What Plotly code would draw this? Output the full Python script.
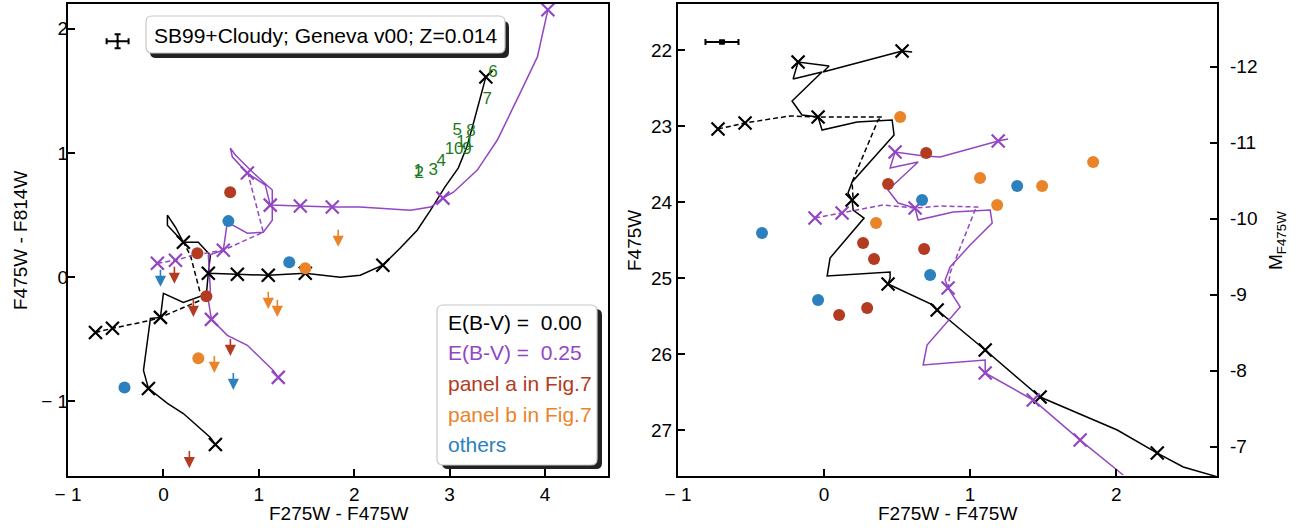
import plotly.graph_objects as go

W, H = 1302, 531
FONT = "Liberation Sans, Arial, sans-serif"
BLACK = "#000000"
PURPLE = "#9346c2"
RED = "#b33b22"
ORANGE = "#ea8429"
BLUE = "#2b80bd"
GREEN = "#1d7a1d"

# ---------------- left panel: colour-colour ----------------
lx_bs = [0.545, 0.492, 0.209, 0.042, -0.157, -0.209, -0.136, -0.031, 0.0, 0.209, 0.450, 0.471, 0.775, 1.099,
         1.487, 1.853, 2.063, 2.30, 2.48, 2.66, 2.80, 2.95, 3.09, 3.18, 3.25, 3.32, 3.38,
         None, 0.471, 0.492, 0.366, 0.209, 0.042, 0.042, 0.126, 0.209]
ly_bs = [-1.347, -1.290, -1.097, -1.016, -0.895, -0.750, -0.331, -0.323, -0.129, -0.202, -0.137, 0.032, 0.024,
         0.016, 0.032, 0.0, 0.016, 0.097, 0.234, 0.379, 0.540, 0.726, 0.879, 1.048, 1.242, 1.452, 1.613,
         None, 0.032, 0.177, 0.282, 0.282, 0.419, 0.500, 0.403, 0.282]
lx_bd = [-0.712, -0.534, -0.136, -0.031, 0.461, 0.387, 0.283, 0.209]
ly_bd = [-0.444, -0.411, -0.347, -0.323, -0.161, -0.129, 0.177, 0.282]
lx_bx = [0.545, -0.157, -0.031, 0.209, 0.471, 0.775, 1.099, 1.487, 2.30, 3.38, -0.712, -0.534]
ly_bx = [-1.347, -0.895, -0.323, 0.282, 0.032, 0.024, 0.016, 0.032, 0.097, 1.613, -0.444, -0.411]

lx_ps = [4.03, 3.92, 3.74, 3.50, 3.29, 3.04, 2.93, 2.80, 2.59, 2.27, 2.06, 1.77, 1.435, 1.12, 1.068, 0.880,
         0.723, 0.702, 0.754, 0.911, 1.141, 1.141, 1.047, 0.880, 0.670, 0.628, 0.471, 0.492, 0.471, 0.503,
         0.670, 0.880, 1.152, 1.204]
ly_ps = [2.153, 1.774, 1.484, 1.105, 0.863, 0.685, 0.637, 0.565, 0.540, 0.556, 0.565, 0.565, 0.573, 0.581,
         0.742, 0.839, 0.968, 1.040, 0.984, 0.863, 0.702, 0.460, 0.363, 0.355, 0.444, 0.218, 0.177, -0.105,
         -0.185, -0.339, -0.468, -0.548, -0.750, -0.806]
lx_pd = [-0.063, 0.126, 0.314, 0.628, 1.047, 0.890]
ly_pd = [0.113, 0.137, 0.177, 0.218, 0.363, 0.823]
lx_px = [4.03, 2.93, 1.77, 1.435, 1.12, 0.880, 0.628, 0.503, 1.204, -0.063, 0.126]
ly_px = [2.153, 0.637, 0.565, 0.573, 0.581, 0.839, 0.218, -0.339, -0.806, 0.113, 0.137]

l_red_x, l_red_y = [0.70, 0.356, 0.450], [0.685, 0.194, -0.153]
l_orange_x, l_orange_y = [1.487, 0.366], [0.073, -0.653]
l_blue_x, l_blue_y = [0.681, 1.319, -0.408], [0.452, 0.121, -0.887]

# upper limits (arrow starts at the value and points down)
lim_red_x, lim_red_y = [0.115, 0.314, 0.702, 0.272], [0.097, -0.169, -0.484, -1.387]
lim_orange_x, lim_orange_y = [1.832, 1.099, 1.194, 0.534], [0.395, -0.105, -0.169, -0.621]
lim_blue_x, lim_blue_y = [-0.031, 0.733], [0.073, -0.758]
ARROW_LEN = 0.15

green_x = [3.455, 3.393, 3.079, 3.225, 3.162, 3.047, 3.183, 2.911, 2.827, 2.681, 2.670]
green_y = [1.645, 1.427, 1.177, 1.169, 1.081, 1.024, 1.024, 0.927, 0.855, 0.831, 0.847]
green_t = ["6", "7", "5", "8", "11", "10", "9", "4", "3", "2", "1"]

err_l = dict(x=[-0.48], y=[1.90], ex=0.115, ey=0.056)

# ---------------- right panel: colour-magnitude ----------------
rx_bs = [0.603, 0.534, 0.432, -0.007, 0.034, -0.178, -0.212, -0.014, -0.219, -0.151, -0.041, -0.014, 0.226,
         0.466, 0.479, 0.192, 0.164, 0.192, 0.199, 0.274, 0.041, 0.021, 0.452, 0.452, 0.438, 0.747, 0.774,
         1.103, 1.342, 1.479, 2.007, 2.281, 2.459, 2.70]
ry_bs = [22.026, 22.013, 22.066, 22.289, 22.211, 22.158, 22.382, 22.289, 22.671, 22.855, 22.882, 23.053,
         22.947, 22.921, 23.118, 23.737, 23.882, 23.974, 24.105, 24.211, 24.737, 24.974, 24.921, 25.0, 25.079,
         25.355, 25.421, 25.947, 26.342, 26.566, 27.0, 27.303, 27.487, 27.62]
rx_bd = [-0.726, -0.541, -0.233, -0.041, 0.397, 0.370, 0.192, 0.199]
ry_bd = [23.039, 22.961, 22.868, 22.882, 22.882, 22.921, 23.737, 23.974]
rx_bx = [0.534, -0.178, -0.041, 0.192, 0.438, 0.774, 1.103, 1.479, 2.281, -0.726, -0.541]
ry_bx = [22.013, 22.158, 22.882, 23.974, 25.079, 25.421, 25.947, 26.566, 27.303, 23.039, 22.961]

rx_ps = [1.260, 1.192, 0.795, 0.685, 0.486, 0.452, 0.644, 0.438, 0.507, 0.623, 0.644, 0.884, 1.137, 1.151,
         1.0, 0.863, 0.829, 0.849, 0.932, 0.705, 0.678, 1.103, 1.103, 1.432, 1.753, 2.048]
ry_ps = [23.171, 23.197, 23.408, 23.395, 23.342, 23.553, 23.474, 23.842, 24.013, 24.079, 24.237, 24.132,
         24.105, 24.276, 24.566, 24.855, 25.026, 25.132, 25.382, 25.882, 26.145, 26.079, 26.25, 26.605,
         27.132, 27.592]
rx_pd = [-0.062, 0.123, 0.404, 0.623, 0.795, 1.055, 1.034, 0.863, 0.849]
ry_pd = [24.211, 24.145, 24.039, 24.079, 24.053, 24.066, 24.105, 24.934, 25.132]
rx_px = [1.192, 0.486, 0.623, 0.849, 1.103, 1.432, 1.753, -0.062, 0.123]
ry_px = [23.197, 23.342, 24.079, 25.132, 26.25, 26.605, 27.132, 24.211, 24.145]

r_red_x = [0.699, 0.438, 0.267, 0.342, 0.685, 0.103, 0.295]
r_red_y = [23.355, 23.763, 24.539, 24.75, 24.618, 25.487, 25.395]
r_orange_x = [0.521, 0.356, 1.068, 1.185, 1.842, 1.493]
r_orange_y = [22.882, 24.276, 23.684, 24.039, 23.474, 23.789]
r_blue_x = [0.671, -0.425, 0.726, -0.041, 1.322]
r_blue_y = [23.974, 24.408, 24.961, 25.289, 23.789]

err_r = dict(x=[-0.699], y=[21.895], ex=0.113, ey=0.02)

DIST_MOD = 34.22
L_XRANGE, L_YRANGE = [-1.0, 4.66], [-1.6, 2.2]
R_XRANGE, R_YRANGE = [-1.0, 2.69], [27.605, 21.395]
M_TICKS = [-12, -11, -10, -9, -8, -7]
M_LABELS = ["-12", "-11", "-10", "-9", "-8", "-7"]

legend_lines = [("E(B-V) =\u00a0 0.00", BLACK), ("E(B-V) =\u00a0 0.25", PURPLE),
                ("panel a in Fig.7", RED), ("panel b in Fig.7", ORANGE), ("others", BLUE)]
title_text = "SB99+Cloudy; Geneva v00; Z=0.014"

fig = go.Figure()


def line(x, y, color, dash="solid", xa="x", ya="y"):
    fig.add_trace(go.Scatter(x=x, y=y, mode="lines", xaxis=xa, yaxis=ya, connectgaps=False,
                             line=dict(color=color, width=1.5, dash=dash), hoverinfo="skip"))


def xmarks(x, y, color, xa="x", ya="y"):
    fig.add_trace(go.Scatter(x=x, y=y, mode="markers", xaxis=xa, yaxis=ya,
                             marker=dict(symbol="x-thin", size=13, line=dict(color=color, width=2.2))))


def dots(x, y, color, xa="x", ya="y"):
    fig.add_trace(go.Scatter(x=x, y=y, mode="markers", xaxis=xa, yaxis=ya,
                             marker=dict(symbol="circle", size=12, color=color, line=dict(width=0))))


# left
line(lx_bd, ly_bd, BLACK, "5px,3px")
line(lx_bs, ly_bs, BLACK)
line(lx_pd, ly_pd, PURPLE, "5px,3px")
line(lx_ps, ly_ps, PURPLE)
xmarks(lx_bx, ly_bx, BLACK)
xmarks(lx_px, ly_px, PURPLE)
dots(l_red_x, l_red_y, RED)
dots(l_orange_x, l_orange_y, ORANGE)
dots(l_blue_x, l_blue_y, BLUE)
fig.add_trace(go.Scatter(x=green_x, y=green_y, text=green_t, mode="text",
                         textfont=dict(color=GREEN, size=17, family=FONT)))
fig.add_trace(go.Scatter(x=err_l["x"], y=err_l["y"], mode="markers",
                         marker=dict(size=3, color=BLACK),
                         error_x=dict(type="constant", value=err_l["ex"], color=BLACK, thickness=2, width=3),
                         error_y=dict(type="constant", value=err_l["ey"], color=BLACK, thickness=2, width=3)))

# right
line(rx_bd, ry_bd, BLACK, "5px,3px", "x2", "y2")
line(rx_bs, ry_bs, BLACK, "solid", "x2", "y2")
line(rx_pd, ry_pd, PURPLE, "5px,3px", "x2", "y2")
line(rx_ps, ry_ps, PURPLE, "solid", "x2", "y2")
xmarks(rx_bx, ry_bx, BLACK, "x2", "y2")
xmarks(rx_px, ry_px, PURPLE, "x2", "y2")
dots(r_red_x, r_red_y, RED, "x2", "y2")
dots(r_orange_x, r_orange_y, ORANGE, "x2", "y2")
dots(r_blue_x, r_blue_y, BLUE, "x2", "y2")
fig.add_trace(go.Scatter(x=err_r["x"], y=err_r["y"], mode="markers", xaxis="x2", yaxis="y2",
                         marker=dict(symbol="square", size=5, color=BLACK),
                         error_x=dict(type="constant", value=err_r["ex"], color=BLACK, thickness=2, width=3),
                         error_y=dict(type="constant", value=err_r["ey"], color=BLACK, thickness=2, width=3)))
# invisible trace to activate the absolute-magnitude axis
fig.add_trace(go.Scatter(x=[None], y=[None], xaxis="x2", yaxis="y3", mode="markers"))

annotations = []
for xs, ys, col in [(lim_red_x, lim_red_y, RED), (lim_orange_x, lim_orange_y, ORANGE),
                    (lim_blue_x, lim_blue_y, BLUE)]:
    for xv, yv in zip(xs, ys):
        annotations.append(dict(x=xv, y=yv - ARROW_LEN, ax=xv, ay=yv, xref="x", yref="y", axref="x",
                                ayref="y", showarrow=True, arrowhead=2, arrowsize=1.4, arrowwidth=1.6,
                                arrowcolor=col, standoff=0, text=""))


def P(px, py):
    return px / W, 1 - py / H


def rrect(x0, y0, x1, y1, r):
    def f(a, b):
        u, v = P(a, b)
        return f"{u:.5f},{v:.5f}"
    return (f"M{f(x0 + r, y0)} L{f(x1 - r, y0)} Q{f(x1, y0)} {f(x1, y0 + r)} L{f(x1, y1 - r)} "
            f"Q{f(x1, y1)} {f(x1 - r, y1)} L{f(x0 + r, y1)} Q{f(x0, y1)} {f(x0, y1 - r)} "
            f"L{f(x0, y0 + r)} Q{f(x0, y0)} {f(x0 + r, y0)} Z")


shapes = []
for (bx0, by0, bx1, by1), (sx, sy) in [((146, 16, 505, 53), (4, 5)), ((437, 305, 597, 465), (5, 4))]:
    shapes.append(dict(type="path", path=rrect(bx0 + sx, by0 + sy, bx1 + sx, by1 + sy, 6), xref="paper",
                       yref="paper", fillcolor="#222222", line=dict(width=0), layer="above"))
    shapes.append(dict(type="path", path=rrect(bx0, by0, bx1, by1, 6), xref="paper", yref="paper",
                       fillcolor="white", line=dict(color="#c8c8c8", width=1.2), layer="above"))

tx, ty = P(325.5, 35)
annotations.append(dict(x=tx, y=ty, xref="paper", yref="paper", text=title_text, showarrow=False,
                        font=dict(size=21, color=BLACK, family=FONT), xanchor="center", yanchor="middle"))
for i, (txt, col) in enumerate(legend_lines):
    lx, ly = P(446, 322 + i * 30.7)
    annotations.append(dict(x=lx, y=ly, xref="paper", yref="paper", text=txt, showarrow=False,
                            font=dict(size=21, color=col, family=FONT), xanchor="left", yanchor="middle"))

for txt, (px, py), ang in [("F475W - F814W", (20, 241), -90), ("F275W - F475W", (338, 513), 0),
                           ("F275W - F475W", (947, 513), 0), ("F475W", (634, 241), -90),
                           ("M<sub>F475W</sub>", (1277, 241), -90)]:
    ax_, ay_ = P(px, py)
    annotations.append(dict(x=ax_, y=ay_, xref="paper", yref="paper", text=txt, showarrow=False,
                            textangle=ang, font=dict(size=19, color=BLACK, family=FONT),
                            xanchor="center", yanchor="middle"))

# absolute-magnitude tick labels, placed on the y3 scale
for mv, lab in zip(M_TICKS, M_LABELS):
    annotations.append(dict(x=1228 / W, y=mv, xref="paper", yref="y3", text=lab, showarrow=False,
                            font=dict(size=19, color=BLACK, family=FONT), xanchor="left", yanchor="middle"))

axis_common = dict(showline=True, linecolor=BLACK, linewidth=2, mirror=True, ticks="inside", ticklen=7,
                   tickwidth=1.5, tickcolor=BLACK, showgrid=False, zeroline=False, automargin=False,
                   tickfont=dict(size=19, color=BLACK, family=FONT))
ldx = [68 / W, 608 / W]
rdx = [678 / W, 1217 / W]
dy = [1 - 476 / H, 1 - 4 / H]

fig.update_layout(
    width=W, height=H, margin=dict(l=0, r=0, t=0, b=0, autoexpand=False), showlegend=False,
    paper_bgcolor="white", plot_bgcolor="white", font=dict(family=FONT, color=BLACK),
    xaxis=dict(domain=ldx, range=L_XRANGE, anchor="y", tickvals=[-1, 0, 1, 2, 3, 4],
               ticktext=["\u2212 1", "0", "1", "2", "3", "4"], **axis_common),
    yaxis=dict(domain=dy, range=L_YRANGE, anchor="x", tickvals=[-1, 0, 1, 2], ticklabelstandoff=-6,
               ticktext=["\u2212 1", "0", "1", "2"], **axis_common),
    xaxis2=dict(domain=rdx, range=R_XRANGE, anchor="y2", tickvals=[-1, 0, 1, 2],
                ticktext=["\u2212 1", "0", "1", "2"], **axis_common),
    yaxis2=dict(domain=dy, range=R_YRANGE, anchor="x2", tickvals=[22, 23, 24, 25, 26, 27], **axis_common),
    yaxis3=dict(overlaying="y2", side="right", anchor="x2",
                range=[R_YRANGE[0] - DIST_MOD, R_YRANGE[1] - DIST_MOD],
                tickvals=M_TICKS, showticklabels=False,
                showline=False, ticks="inside", ticklen=7, tickwidth=1.5, tickcolor=BLACK, automargin=False,
                showgrid=False, zeroline=False),
    annotations=annotations, shapes=shapes,
)

fig.write_html("out.html", config={"displayModeBar": False},
               post_script="document.body.style.margin='0px';")
